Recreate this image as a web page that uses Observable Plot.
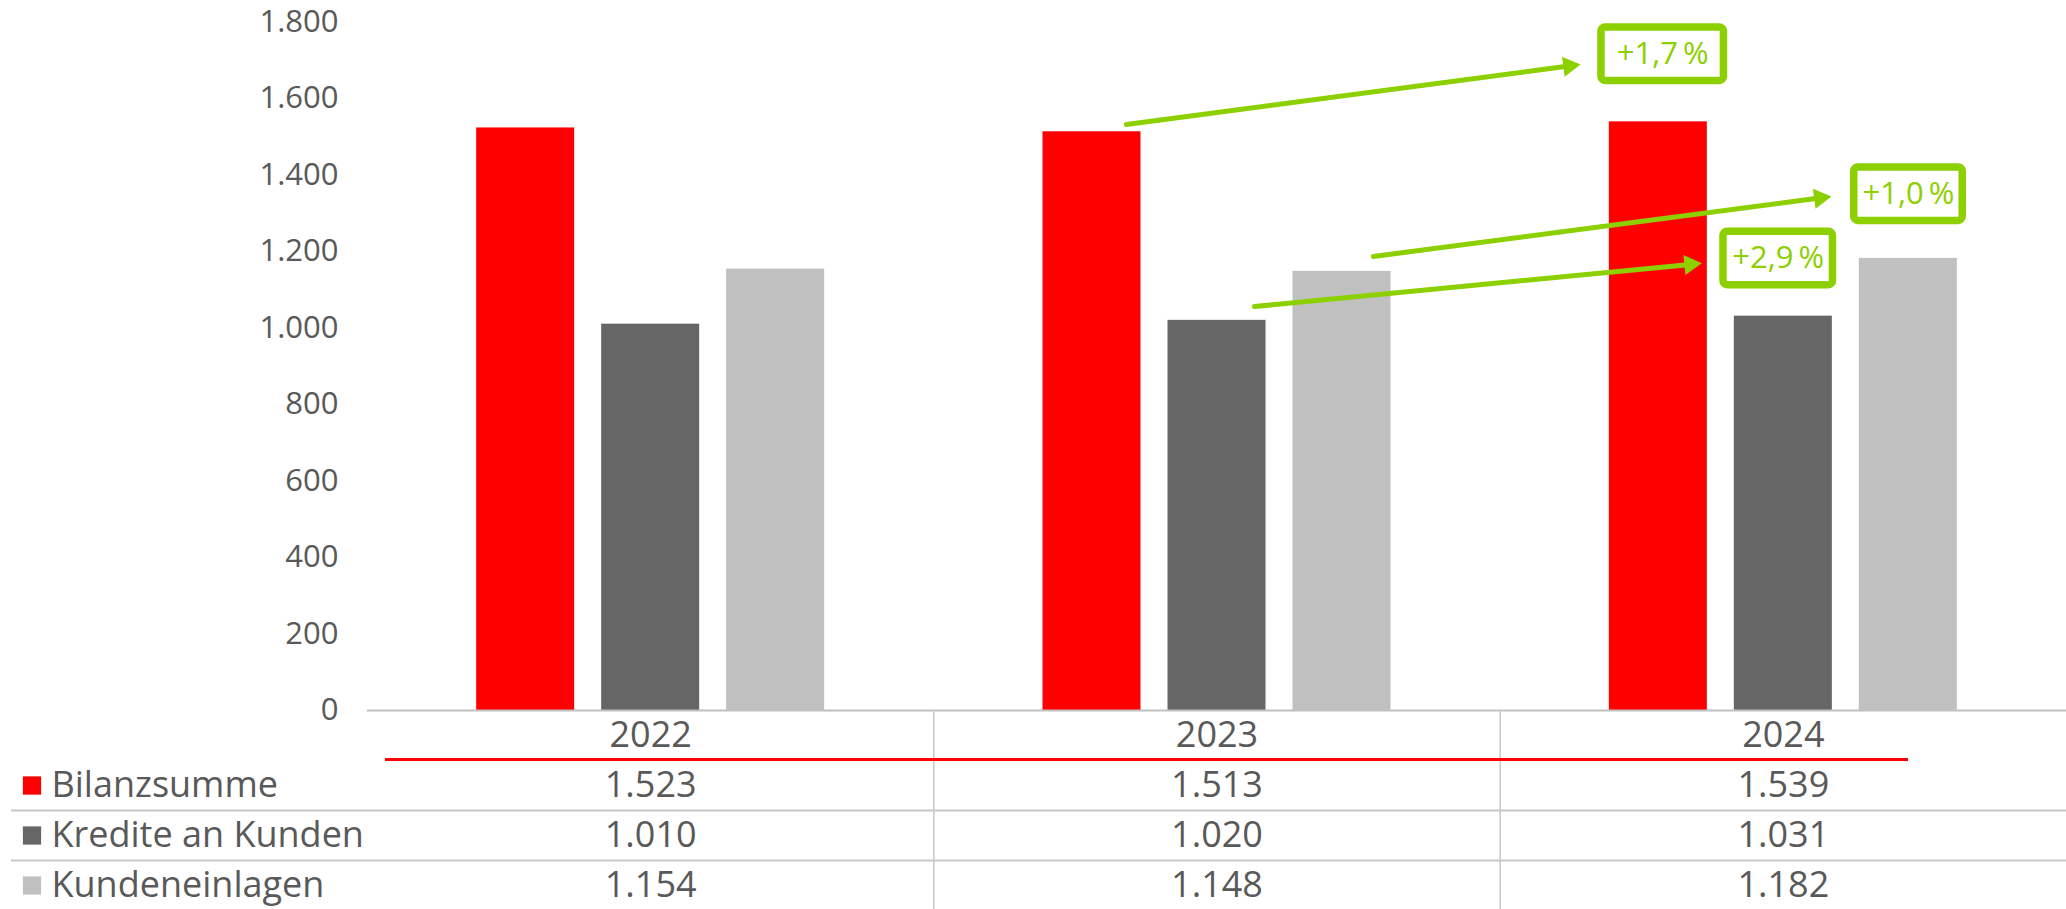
<!DOCTYPE html>
<html><head><meta charset="utf-8">
<script src="https://cdn.jsdelivr.net/npm/d3@7"></script>
<script src="https://cdn.jsdelivr.net/npm/@observablehq/plot@0.6"></script>
<style>html,body{margin:0;padding:0;background:#fff;}</style>
</head><body><div id="chart"></div>
<script>
// ---- data ----
const years = [2022, 2023, 2024];
const seriesNames = ["Bilanzsumme", "Kredite an Kunden", "Kundeneinlagen"];
const bilanzsumme = [1523, 1513, 1539];
const krediteAnKunden = [1010, 1020, 1031];
const kundeneinlagen = [1154, 1148, 1182];
const yTicks = [0, 200, 400, 600, 800, 1000, 1200, 1400, 1600, 1800];
const seriesColors = ["#ff0000", "#666666", "#c0c0c0"];

// annotations (growth 2023 -> 2024), positions in data units (year, value)
const annotLabels = ["+1,7\u2009%", "+1,0\u2009%", "+2,9\u2009%"];
const arrowStartX = [2022.84, 2023.276, 2023.066];
const arrowStartY = [1532, 1187, 1056];
const arrowEndX = [2023.642, 2024.085, 2023.856];
const arrowEndY = [1689, 1344, 1169];
const labelX = [2023.787, 2024.221, 2023.991];
const labelY = [1716, 1350, 1182];

// ---- layout / style ----
const W = 2066, H = 909, ML = 367, MR = 0, MT = 21.5, MB = 199;
const GREEN = "#8cd000", TEXT = "#595959", GRID = "#c8c8c8";
const bandW = (W - ML - MR) / years.length;
const barW = 98, barGap = 27;
const groupW = 3 * barW + 2 * barGap;
const outer = (bandW - groupW) / 2;
const rowDy = [75, 125, 175];
const boxW = [130, 116, 117], boxH = 61, boxStroke = 7.5;
const kx = bandW, ky = (H - MT - MB) / 1800;

const de = d3.formatLocale({decimal: ",", thousands: ".", grouping: [3], currency: ["", " €"]});
const fmt = de.format(",");
const valuesBySeries = [bilanzsumme, krediteAnKunden, kundeneinlagen];

const marks = [];

// bars
seriesNames.forEach((name, s) => {
  const left = outer + s * (barW + barGap);
  marks.push(Plot.rectY(years, {
    x1: d => d - 0.5, x2: d => d + 0.5,
    y: (d, i) => valuesBySeries[s][i],
    fill: seriesColors[s],
    insetLeft: left, insetRight: bandW - left - barW
  }));
});

// baseline
marks.push(Plot.ruleY([0], {stroke: "#c0c0c0", strokeWidth: 2}));

// y axis
marks.push(Plot.axisY({ticks: yTicks, tickSize: 0, tickPadding: 29, tickFormat: fmt, fontSize: 31, fill: TEXT}));

// ---- data table ----
marks.push(Plot.ruleX(years.slice(1), {x: d => d - 0.5, stroke: GRID, strokeWidth: 1.5, insetTop: H - MT - MB, insetBottom: -MB}));
[100, 150].forEach(dy => marks.push(Plot.ruleY([0], {dy, insetLeft: 11 - ML, stroke: GRID, strokeWidth: 2})));
marks.push(Plot.ruleY([0], {dy: 49, insetLeft: 18, insetRight: 158, stroke: "#ff0000", strokeWidth: 3}));
marks.push(Plot.text(years, {x: d => d, text: d => String(d), frameAnchor: "bottom", lineAnchor: "middle", dy: 25, fontSize: 36, fill: TEXT}));
seriesNames.forEach((name, s) => {
  marks.push(Plot.text(years, {x: d => d, text: (d, i) => fmt(valuesBySeries[s][i]), frameAnchor: "bottom", lineAnchor: "middle", dy: rowDy[s], fontSize: 36, fill: TEXT}));
  marks.push(Plot.text([name], {text: d => d, frameAnchor: "bottom-left", lineAnchor: "middle", textAnchor: "start", dx: 51 - ML, dy: rowDy[s], fontSize: 36, fill: TEXT}));
  marks.push(Plot.dot([name], {frameAnchor: "bottom-left", symbol: "square", r: 10.3, fill: seriesColors[s], stroke: "none", dx: 31.5 - ML, dy: rowDy[s]}));
});

// ---- annotations ----
annotLabels.forEach((label, a) => {
  const datum = [{x1: arrowStartX[a], y1: arrowStartY[a], x2: arrowEndX[a], y2: arrowEndY[a], lx: labelX[a], ly: labelY[a], label}];
  const ang = Math.atan2(-(arrowEndY[a] - arrowStartY[a]) * ky, (arrowEndX[a] - arrowStartX[a]) * kx);
  const half = 5.8;
  const back = 2 * half;
  marks.push(Plot.arrow(datum, {x1: "x1", y1: "y1", x2: "x2", y2: "y2", stroke: GREEN, strokeWidth: 5, headLength: 0, insetEnd: 14}));
  marks.push(Plot.dot(datum, {x: "x2", y: "y2", symbol: "triangle", r: Math.sqrt(3 * Math.sqrt(3) * half * half / Math.PI), fill: GREEN, stroke: "none",
    rotate: ang * 180 / Math.PI + 90, dx: -back * Math.cos(ang), dy: -back * Math.sin(ang)}));
  const ix = -(boxW[a] / 2 - boxStroke / 2), iy = -(boxH / 2 - boxStroke / 2);
  marks.push(Plot.rect(datum, {x1: "lx", x2: "lx", y1: "ly", y2: "ly", insetLeft: ix, insetRight: ix, insetTop: iy, insetBottom: iy,
    fill: "white", stroke: GREEN, strokeWidth: boxStroke, rx: 4}));
  marks.push(Plot.text(datum, {x: "lx", y: "ly", text: "label", fill: GREEN, fontSize: 31}));
});

const chart = Plot.plot({
  width: W, height: H,
  marginLeft: ML, marginRight: MR, marginTop: MT, marginBottom: MB,
  x: {type: "linear", domain: [years[0] - 0.5, years[years.length - 1] + 0.5], axis: null},
  y: {domain: [0, 1800]},
  style: {fontFamily: "'Open Sans', sans-serif", color: TEXT, background: "#fff", overflow: "visible"},
  marks
});
document.getElementById("chart").appendChild(chart);
</script>
</body></html>
